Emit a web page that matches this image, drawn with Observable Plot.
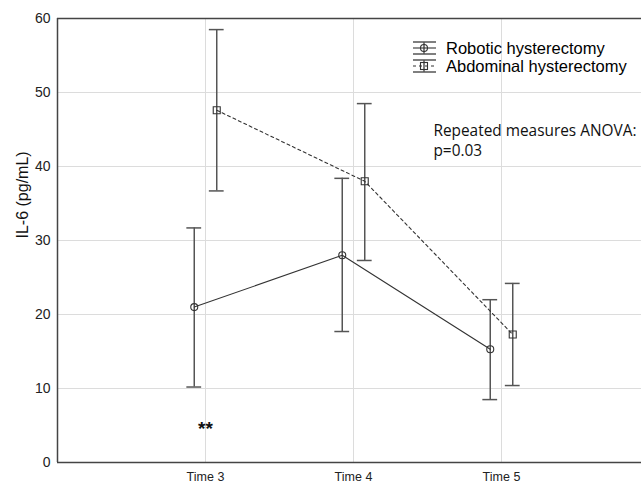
<!DOCTYPE html>
<html>
<head>
<meta charset="utf-8">
<script src="https://cdn.jsdelivr.net/npm/d3@7"></script>
<script src="https://cdn.jsdelivr.net/npm/@observablehq/plot@0.6"></script>
<style>
  html, body { margin: 0; padding: 0; background: #fff; }
  #wrap { position: relative; width: 641px; height: 483px; overflow: hidden; }
  #legend { position: absolute; left: 412px; top: 39px; font-family: "Liberation Sans", Arial, sans-serif; font-size: 16.5px; color: #000; }
  #legend .row { display: flex; align-items: center; height: 18px; }
  #legend svg { margin-right: 8px; }
</style>
</head>
<body>
<div id="wrap">
  <div id="chart"></div>
  <div id="legend"></div>
</div>
<script>
const times = ["Time 3", "Time 4", "Time 5"];
const seriesNames = ["Robotic hysterectomy", "Abdominal hysterectomy"];
const roboticMean = [21.0, 28.0, 15.3];
const roboticLow = [10.2, 17.7, 8.5];
const roboticHigh = [31.7, 38.4, 22.0];
const abdominalMean = [47.6, 38.0, 17.3];
const abdominalLow = [36.7, 27.3, 10.4];
const abdominalHigh = [58.5, 48.5, 24.2];
const yTicks = [0, 10, 20, 30, 40, 50, 60];
const yLabel = "IL-6 (pg/mL)";
const anovaText = ["Repeated measures ANOVA:", "p=0.03"];
const starText = "**";

const offset = 0.076;   // horizontal dodge of the two series
const capHalf = 0.05;   // half width of error-bar caps

function rows(mean, low, high, dx, series) {
  return mean.map((m, i) => ({series, time: times[i], x: i + 1 + dx, mean: m, low: low[i], high: high[i]}));
}
const robotic = rows(roboticMean, roboticLow, roboticHigh, -offset, seriesNames[0]);
const abdominal = rows(abdominalMean, abdominalLow, abdominalHigh, offset, seriesNames[1]);
const all = robotic.concat(abdominal);

const ink = "#333";
const barInk = "#555";

const chart = Plot.plot({
  width: 641,
  height: 483,
  marginLeft: 57,
  marginRight: 0,
  marginTop: 18,
  marginBottom: 21,
  style: {fontFamily: "'Liberation Sans', Arial, sans-serif", fontSize: "14px", color: "#222", background: "#fff"},
  x: {type: "linear", domain: [0, 3.946]},
  y: {domain: [0, 60]},
  marks: [
    Plot.gridY(yTicks.slice(1, -1), {stroke: "#dcdcdc", strokeOpacity: 1}),
    Plot.gridX([1, 2, 3], {stroke: "#dcdcdc", strokeOpacity: 1}),
    Plot.ruleX(all, {x: "x", y1: "low", y2: "high", stroke: barInk, strokeWidth: 1.5}),
    Plot.ruleY(all, {y: "low", x1: d => d.x - capHalf, x2: d => d.x + capHalf, stroke: barInk, strokeWidth: 1.5}),
    Plot.ruleY(all, {y: "high", x1: d => d.x - capHalf, x2: d => d.x + capHalf, stroke: barInk, strokeWidth: 1.5}),
    Plot.line(robotic, {x: "x", y: "mean", stroke: ink, strokeWidth: 1.1}),
    Plot.line(abdominal, {x: "x", y: "mean", stroke: ink, strokeWidth: 1.1, strokeDasharray: "3,3"}),
    Plot.dot(robotic, {x: "x", y: "mean", r: 3.5, stroke: ink, strokeWidth: 1.1, fill: "none"}),
    Plot.dot(abdominal, {x: "x", y: "mean", r: 3.95, symbol: "square", stroke: ink, strokeWidth: 1.1, fill: "none"}),
    Plot.text([starText], {x: 1, y: 4.6, text: d => d, fontSize: 19, fontWeight: "bold", fill: "#111"}),
    Plot.text([anovaText.join("\n")], {x: 2.54, y: 46.0, text: d => d, textAnchor: "start", lineAnchor: "top", lineHeight: 1.3, fontSize: 15.4, fontFamily: "'Open Sans', 'Noto Sans', sans-serif", fill: "#111"}),
    Plot.ruleY([0], {stroke: "#444", strokeWidth: 1.5}),
    Plot.ruleY([60], {stroke: "#444", strokeWidth: 1.5}),
    Plot.ruleX([0], {stroke: "#444", strokeWidth: 1.5}),
    Plot.axisY(yTicks, {tickSize: 0, tickPadding: 7, fontSize: 14, label: null}),
    Plot.text([yLabel], {frameAnchor: "left", rotate: -90, dx: -35, dy: -2, text: d => d, fontSize: 16, fill: "#111"}),
    Plot.axisX([1, 2, 3], {tickSize: 0, tickPadding: 10, fontSize: 12.5, tickFormat: d => times[d - 1], label: null})
  ]
});
document.getElementById("chart").appendChild(chart);

// legend
const legend = document.getElementById("legend");
seriesNames.forEach((name, i) => {
  const row = document.createElement("div");
  row.className = "row";
  const marker = i === 0
    ? `<circle cx="12" cy="9" r="3.5" fill="none" stroke="${ink}" stroke-width="1.1"/>`
    : `<rect x="8.5" y="5.5" width="7" height="7" fill="none" stroke="${ink}" stroke-width="1.1"/>`;
  const dash = i === 0 ? "" : `stroke-dasharray="3,3"`;
  row.innerHTML = `<svg width="26" height="18" viewBox="0 0 26 18">
    <line x1="12" x2="12" y1="3" y2="15" stroke="${barInk}" stroke-width="1.5"/>
    <line x1="1" x2="24" y1="3" y2="3" stroke="${barInk}" stroke-width="1.5"/>
    <line x1="1" x2="24" y1="15" y2="15" stroke="${barInk}" stroke-width="1.5"/>
    <line x1="1" x2="24" y1="9" y2="9" stroke="${ink}" stroke-width="1.1" ${dash}/>
    ${marker}
  </svg><span>${name}</span>`;
  legend.appendChild(row);
});
</script>
</body>
</html>
